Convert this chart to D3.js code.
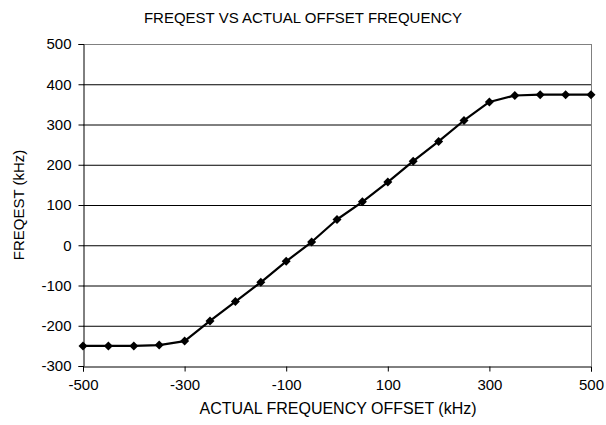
<!DOCTYPE html>
<html><head><meta charset="utf-8">
<script src="https://cdn.jsdelivr.net/npm/d3@7"></script>
<style>body{margin:0;background:#fff}svg{display:block}text{font-family:"Liberation Sans",Arial,sans-serif;fill:#000}</style>
</head><body><svg id="c" width="606" height="425"></svg>
<script>
const offsets = [-500,-450,-400,-350,-300,-250,-200,-150,-100,-50,0,50,100,150,200,250,300,350,400,450,500];
const freqest = [-250,-250,-250,-248,-238,-188,-140,-92,-40,8,64,108,157,209,258,310,356,372,374,374,374];
const xTicks = [-500,-300,-100,100,300,500];
const yTicks = [-300,-200,-100,0,100,200,300,400,500];
const title = "FREQEST VS ACTUAL OFFSET FREQUENCY";
const xTitle = "ACTUAL FREQUENCY OFFSET (kHz)";
const yTitle = "FREQEST (kHz)";

const L=83, R=591, T=44, B=366;
const svg=d3.select("#c");
const x=d3.scaleLinear().domain([-500,500]).range([L,R]);
const y=d3.scaleLinear().domain([-300,500]).range([B,T]);
const fmt=d=>String(d);

// grid
svg.append("g").selectAll("line").data(yTicks.filter(d=>d>-300)).join("line")
  .attr("x1",L).attr("x2",R).attr("y1",d=>y(d)+0.5).attr("y2",d=>y(d)+0.5)
  .attr("stroke",d=>d===500?"#808080":"#000").attr("stroke-width",1);
// right border
svg.append("line").attr("x1",R+0.5).attr("x2",R+0.5).attr("y1",T).attr("y2",B).attr("stroke","#808080");

// axes
const yAx=svg.append("g").attr("transform",`translate(${L+0.5},0)`)
  .call(d3.axisLeft(y).tickValues(yTicks).tickSize(5).tickPadding(7).tickFormat(fmt));
const xAx=svg.append("g").attr("transform",`translate(0,${B+0.5})`)
  .call(d3.axisBottom(x).tickValues(xTicks).tickSize(5).tickPadding(8).tickFormat(fmt));
[yAx,xAx].forEach(g=>{
  g.select(".domain").attr("stroke","#000");
  g.selectAll(".tick line").attr("stroke","#000");
  g.selectAll("text").style("font-size","15px").attr("fill","#000").style("font-family",'"Liberation Sans",Arial,sans-serif');
});

// line
const pts=offsets.map((o,i)=>[o,freqest[i]]);
svg.append("path").datum(pts)
  .attr("d",d3.line().x(d=>x(d[0])).y(d=>y(d[1])))
  .attr("fill","none").attr("stroke","#000").attr("stroke-width",2.2).attr("stroke-linejoin","round");
svg.append("g").selectAll("path").data(pts).join("path")
  .attr("transform",d=>`translate(${x(d[0])},${y(d[1])})`)
  .attr("d","M0,-4.5L4.5,0L0,4.5L-4.5,0Z").attr("fill","#000");

// titles
svg.append("text").attr("x",303).attr("y",23).attr("text-anchor","middle").style("font-size","15px").text(title);
svg.append("text").attr("x",(L+R)/2+1).attr("y",414).attr("text-anchor","middle").style("font-size","16px").text(xTitle);
svg.append("text").attr("transform",`translate(24,${(T+B)/2}) rotate(-90)`).attr("text-anchor","middle").style("font-size","15px").text(yTitle);
</script></body></html>
